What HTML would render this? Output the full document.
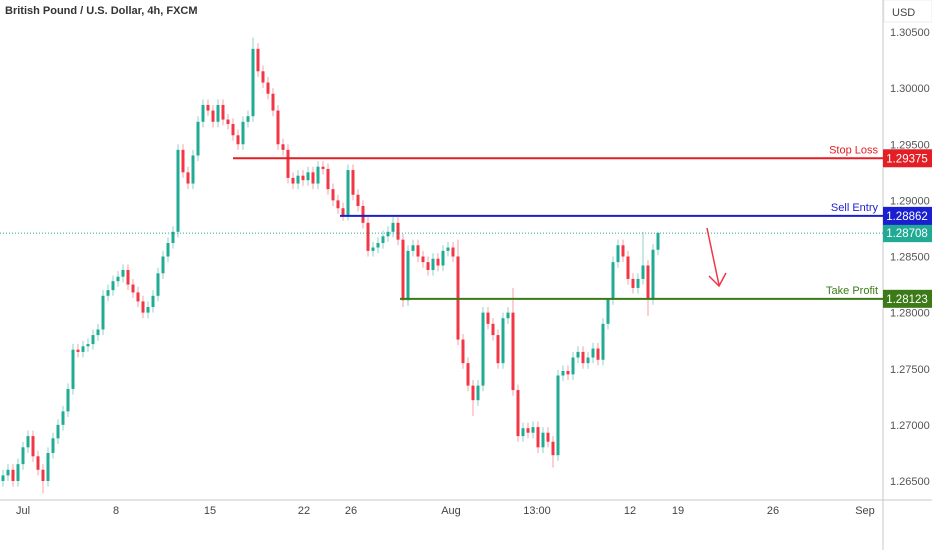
<!DOCTYPE html>
<html><head><meta charset="utf-8"><style>
body{margin:0;background:#fff;font-family:"Liberation Sans",sans-serif}
svg{display:block}
</style></head><body>
<svg id="chart" width="932" height="550" xmlns="http://www.w3.org/2000/svg" font-family="Liberation Sans, sans-serif">
<rect width="932" height="550" fill="#fff"/>
<text x="5" y="14" font-size="11" font-weight="bold" fill="#333">British Pound / U.S. Dollar, 4h, FXCM</text>
<line x1="883" y1="0" x2="883" y2="550" stroke="#c8c8c8"/>
<line x1="0" y1="500" x2="932" y2="500" stroke="#c8c8c8"/>
<rect x="884" y="0" width="48" height="22" fill="#fff" stroke="#eee"/>
<text x="892" y="16" font-size="11" fill="#444">USD</text>
<g id="yticks"></g><g id="xticks"></g><g id="candles"></g><g id="levels"></g>
<g>
<line x1="707" y1="228" x2="719" y2="285" stroke="#f23645" stroke-width="1.5"/>
<polyline points="709,276 719,286 726,273" fill="none" stroke="#f23645" stroke-width="1.5"/>
</g>
</svg>
<script>
const NS="http://www.w3.org/2000/svg";
const priceTicks=[1.305,1.300,1.295,1.290,1.285,1.280,1.275,1.270,1.265];
const timeLabels=["Jul","8","15","22","26","Aug","13:00","12","19","26","Sep"];
const timeIdx=[4,22.6,41.4,60.2,69.6,89.6,106.8,125.4,135,154,172.4];
const closes=[1.2655,1.2660,1.2650,1.2665,1.2680,1.2690,1.2672,1.2660,1.2650,1.2675,1.2688,1.2700,1.2712,1.2732,1.2767,1.2765,1.2770,1.2772,1.2780,1.2785,1.2815,1.2820,1.2828,1.2832,1.2838,1.2825,1.2818,1.2810,1.2800,1.2805,1.2815,1.2835,1.2850,1.2862,1.2872,1.2945,1.2925,1.2915,1.2940,1.2970,1.2985,1.2980,1.2970,1.2985,1.2972,1.2968,1.2958,1.2950,1.2970,1.2975,1.3035,1.3015,1.3005,1.2995,1.2980,1.2950,1.2945,1.2920,1.2915,1.2922,1.2918,1.2925,1.2915,1.2930,1.2928,1.2910,1.2900,1.2893,1.2887,1.2927,1.2905,1.2895,1.2880,1.2855,1.2858,1.2862,1.2868,1.2872,1.2880,1.2865,1.2811,1.2855,1.2860,1.2850,1.2845,1.2838,1.2848,1.2842,1.2855,1.2858,1.2850,1.2776,1.2755,1.2735,1.2722,1.2735,1.2800,1.2790,1.2780,1.2755,1.2795,1.2800,1.2731,1.2690,1.2697,1.2693,1.2698,1.2680,1.2693,1.2685,1.2673,1.2744,1.2748,1.2745,1.2760,1.2765,1.2755,1.2760,1.2768,1.2758,1.2790,1.2812,1.2845,1.2860,1.2850,1.2830,1.2822,1.2830,1.2842,1.2812,1.2856,1.2871];
const highOverrideIdx=[50,91,102,121,128,131];
const highOverrideVal=[1.3045,1.2865,1.2822,1.2800,1.2872,1.2872];
const lowOverrideIdx=[8,80,94,110,129];
const lowOverrideVal=[1.2639,1.2805,1.2708,1.2662,1.2797];
const levelNames=["Stop Loss","Sell Entry","Take Profit"];
const levelPrices=[1.29375,1.28862,1.28123];
const levelStartIdx=[46,67.4,79.4];
const currentPrice=1.28708;

const y=p=>32+(1.305-p)*11225;
const x=i=>3+i*5;
const svg=document.getElementById('chart');
function mk(tag,attrs,parent,txt){const e=document.createElementNS(NS,tag);for(const k in attrs)e.setAttribute(k,attrs[k]);if(txt!==undefined)e.textContent=txt;parent.appendChild(e);return e;}

const yt=document.getElementById('yticks');
priceTicks.forEach(p=>{const t=mk('text',{x:890,y:y(p)+4,'font-size':11,fill:'#555'},yt,p.toFixed(5));

});
const xt=document.getElementById('xticks');
timeLabels.forEach((l,i)=>{const t=mk('text',{x:x(timeIdx[i]),y:514,'font-size':11,fill:'#444','text-anchor':'middle'},xt,l);

});

const cg=document.getElementById('candles');
closes.forEach((c,i)=>{
 const o=i?closes[i-1]:c-0.0005;
 let h=Math.max(o,c)+0.0005,l=Math.min(o,c)-0.0005;
 const hi=highOverrideIdx.indexOf(i);if(hi>=0)h=highOverrideVal[hi];
 const li=lowOverrideIdx.indexOf(i);if(li>=0)l=lowOverrideVal[li];
 const up=c>=o;const col=up?'#22ab94':'#f23645';const wc=up?'#8fd3c8':'#f7a1a8';
 const g=mk('g',{},cg);
 
 
 mk('line',{x1:x(i),x2:x(i),y1:y(h),y2:y(l),stroke:wc,'stroke-width':1},g);
 const top=y(Math.max(o,c)),bh=Math.max(1,Math.abs(y(o)-y(c)));
 mk('rect',{x:x(i)-1.5,y:top,width:3,height:bh,fill:col},g);
});

const lg=document.getElementById('levels');
const cp=mk('line',{x1:0,x2:883,y1:y(currentPrice),y2:y(currentPrice),stroke:'#22ab94','stroke-dasharray':'1,2'},lg);


const cb=mk('rect',{x:883,y:y(currentPrice)-9,width:49,height:18,fill:'#22ab94'},lg);


mk('text',{x:907,y:y(currentPrice)+4,'font-size':11.5,fill:'#fff','text-anchor':'middle'},lg,currentPrice.toFixed(5));
const cols=['#e31e24','#1a1fd0','#3b7a17'];
levelPrices.forEach((p,i)=>{
 const ln=mk('line',{x1:x(levelStartIdx[i]),x2:883,y1:y(p),y2:y(p),stroke:cols[i],'stroke-width':2},lg);
 
 
 const tx=mk('text',{x:878,y:y(p)-5,'font-size':11,fill:cols[i],'text-anchor':'end'},lg,levelNames[i]);
 
 
 const b=mk('rect',{x:883,y:y(p)-9,width:49,height:18,fill:cols[i]},lg);
 
 
 mk('text',{x:907,y:y(p)+4,'font-size':11.5,fill:'#fff','text-anchor':'middle'},lg,p.toFixed(5));
});
</script>
</body></html>
